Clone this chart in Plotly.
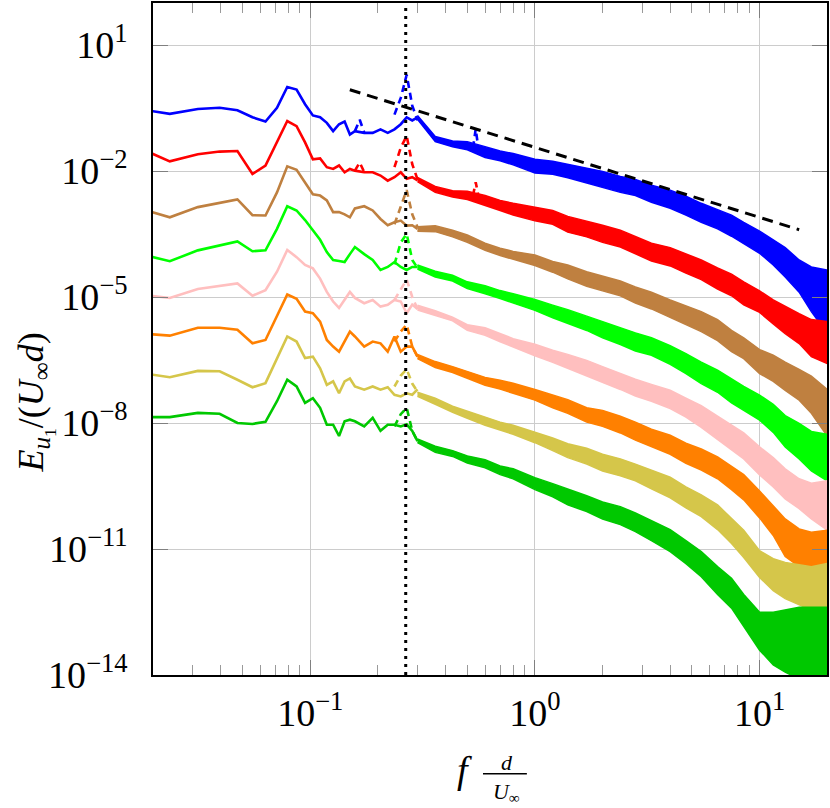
import plotly.graph_objects as go

# FFT bins of the low-frequency part (f d / U_inf)
F_LOW = [0.0158, 0.0237, 0.0316, 0.0395, 0.0474, 0.0553, 0.0632, 0.0711, 0.079, 0.0869,
         0.0948, 0.1027, 0.1106, 0.1185, 0.1264, 0.1343, 0.1422, 0.1501, 0.158, 0.1738,
         0.1896, 0.2054, 0.2212, 0.237, 0.2528, 0.2686, 0.2844, 0.3002]

# noisy high-frequency part, read as upper / lower envelope
F_BAND = [0.30, 0.36, 0.43, 0.5, 0.6, 0.7, 0.8, 1.0, 1.2, 1.4, 1.7, 2.0, 2.4, 2.8, 3.3,
          4.0, 4.7, 5.5, 6.5, 7.5, 8.5, 10, 11.5, 13, 15, 17, 20]

BLUE_LOW = [3.2e-1, 2.3e-1, 3.0e-1, 3.2e-1, 2.8e-1, 1.9e-1, 1.5e-1, 3.2e-1, 1.0, 8.7e-1,
            3.9e-1, 2.1e-1, 1.9e-1, 1.4e-1, 8.9e-2, 1.3e-1, 1.5e-1, 7.4e-2, 8.9e-2, 8.1e-2,
            8.1e-2, 9.8e-2, 8.1e-2, 9.8e-2, 1.3e-1, 1.9e-1, 1.6e-1, 1.9e-1]
BLUE_HI = [2.1e-1, 6.6e-2, 5.2e-2, 5.0e-2, 3.8e-2, 3.0e-2, 2.6e-2, 1.9e-2, 1.7e-2, 1.45e-2,
           1.15e-2, 9.8e-3, 7.4e-3, 6.3e-3, 4.6e-3, 3.5e-3, 2.5e-3, 1.7e-3, 1.2e-3, 8.9e-4,
           6.0e-4, 3.7e-4, 2.3e-4, 1.5e-4, 7.6e-5, 5.2e-5, 4.4e-5]
BLUE_LO = [1.7e-1, 5.0e-2, 3.8e-2, 3.2e-2, 2.1e-2, 1.75e-2, 1.4e-2, 9.0e-3, 8.4e-3, 6.9e-3,
           5.1e-3, 4.1e-3, 3.1e-3, 2.6e-3, 1.8e-3, 1.3e-3, 8.9e-4, 6.0e-4, 4.2e-4, 2.8e-4,
           1.9e-4, 1.1e-4, 5.8e-5, 3.0e-5, 1.3e-5, 4.5e-6, 1.35e-6]

RED_LOW = [4.4e-2, 1.7e-2, 2.5e-2, 2.9e-2, 3.0e-2, 8.5e-3, 1.35e-2, 4.8e-2, 1.55e-1, 1.17e-1,
           4.8e-2, 1.9e-2, 2.0e-2, 1.23e-2, 1.12e-2, 1.35e-2, 9.3e-3, 1.12e-2, 1.02e-2, 9.3e-3,
           9.3e-3, 7.8e-3, 5.9e-3, 7.1e-3, 9.3e-3, 6.5e-3, 7.1e-3, 6.0e-3]
RED_HI = [7.0e-3, 4.3e-3, 3.4e-3, 3.3e-3, 2.6e-3, 2.0e-3, 1.7e-3, 1.4e-3, 1.15e-3, 8.3e-4,
          6.5e-4, 5.1e-4, 3.9e-4, 2.7e-4, 1.9e-4, 1.5e-4, 1.05e-4, 7.6e-5, 4.9e-5, 3.5e-5,
          2.3e-5, 1.4e-5, 8.5e-6, 5.9e-6, 4.0e-6, 2.9e-6, 2.6e-6]
RED_LO = [5.6e-3, 3.1e-3, 2.4e-3, 2.1e-3, 1.5e-3, 1.15e-3, 9.0e-4, 6.5e-4, 5.4e-4, 3.5e-4,
          2.7e-4, 2.0e-4, 1.55e-4, 1.05e-4, 7.2e-5, 5.5e-5, 3.7e-5, 2.6e-5, 1.55e-5, 1.07e-5,
          6.5e-6, 4.3e-6, 2.3e-6, 1.35e-6, 7.8e-7, 3.8e-7, 2.6e-7]

BROWN_LOW = [1.48e-3, 7.9e-4, 1.38e-3, 1.74e-3, 2.1e-3, 8.9e-4, 8.7e-4, 3.1e-3, 1.29e-2, 1.07e-2,
             5.4e-3, 2.8e-3, 2.6e-3, 2.0e-3, 1.05e-3, 1.05e-3, 9.3e-4, 7.9e-4, 1.29e-3, 1.45e-3,
             1.15e-3, 7.2e-4, 5.1e-4, 6.0e-4, 6.6e-4, 5.0e-4, 5.1e-4, 4.2e-4]
BROWN_HI = [4.7e-4, 5.0e-4, 3.9e-4, 3.0e-4, 1.9e-4, 1.45e-4, 1.22e-4, 1.0e-4, 7.0e-5, 5.8e-5,
            4.0e-5, 3.2e-5, 2.4e-5, 1.74e-5, 1.3e-5, 8.5e-6, 6.2e-6, 4.5e-6, 2.9e-6, 1.6e-6,
            1.07e-6, 5.6e-7, 4.1e-7, 2.8e-7, 1.9e-7, 1.3e-7, 6.3e-8]
BROWN_LO = [3.7e-4, 3.6e-4, 2.7e-4, 2.0e-4, 1.3e-4, 9.7e-5, 7.8e-5, 5.6e-5, 3.9e-5, 2.7e-5,
            1.8e-5, 1.4e-5, 1.07e-5, 7.2e-6, 5.2e-6, 3.2e-6, 2.2e-6, 1.5e-6, 9.1e-7, 5.0e-7,
            3.4e-7, 1.5e-7, 9.8e-8, 6.0e-8, 3.5e-8, 1.7e-8, 4.9e-9]

LIME_LOW = [1.2e-4, 7.1e-5, 1.29e-4, 1.7e-4, 2.1e-4, 1.23e-4, 1.29e-4, 4.2e-4, 1.45e-3, 1.15e-3,
            6.8e-4, 3.9e-4, 2.3e-4, 1.17e-4, 7.6e-5, 7.2e-5, 6.8e-5, 1.05e-4, 1.55e-4, 1.05e-4,
            7.6e-5, 4.4e-5, 5.2e-5, 6.8e-5, 5.2e-5, 4.4e-5, 5.2e-5, 5.2e-5]
LIME_HI = [5.8e-5, 4.1e-5, 3.3e-5, 2.3e-5, 1.85e-5, 1.42e-5, 1.2e-5, 8.7e-6, 6.4e-6, 5.0e-6,
           3.5e-6, 2.6e-6, 1.8e-6, 1.4e-6, 1.07e-6, 6.9e-7, 4.5e-7, 2.8e-7, 1.8e-7, 1.1e-7,
           7.4e-8, 4.6e-8, 2.8e-8, 1.5e-8, 9.8e-9, 6.3e-9, 5.4e-9]
LIME_LO = [4.6e-5, 3.0e-5, 2.4e-5, 1.6e-5, 1.2e-5, 9.2e-6, 7.4e-6, 4.8e-6, 3.2e-6, 2.3e-6,
           1.6e-6, 1.07e-6, 7.4e-7, 5.2e-7, 4.1e-7, 2.5e-7, 1.5e-7, 8.7e-8, 5.4e-8, 3.0e-8,
           2.0e-8, 1.17e-8, 6.0e-9, 2.7e-9, 1.4e-9, 7.2e-10, 4.2e-10]

PINK_LOW = [1.23e-5, 9.5e-6, 1.55e-5, 1.86e-5, 2.1e-5, 1.07e-5, 1.45e-5, 4.0e-5, 1.32e-4, 8.9e-5,
            5.8e-5, 4.8e-5, 2.75e-5, 1.32e-5, 7.8e-6, 5.5e-6, 8.5e-6, 1.32e-5, 9.5e-6, 7.1e-6,
            8.5e-6, 5.9e-6, 6.5e-6, 8.5e-6, 7.8e-6, 4.1e-6, 6.6e-6, 5.2e-6]
PINK_HI = [6.4e-6, 4.7e-6, 3.3e-6, 2.2e-6, 1.85e-6, 1.33e-6, 1.02e-6, 7.5e-7, 5.4e-7, 4.3e-7,
           3.1e-7, 2.2e-7, 1.5e-7, 1.1e-7, 8.3e-8, 6.0e-8, 3.9e-8, 2.6e-8, 1.45e-8, 8.9e-9,
           5.8e-9, 2.7e-9, 1.5e-9, 8.1e-10, 4.7e-10, 3.7e-10, 4.2e-10]
PINK_LO = [4.9e-6, 3.6e-6, 2.7e-6, 1.6e-6, 1.22e-6, 8.6e-7, 6.3e-7, 4.0e-7, 2.8e-7, 2.0e-7,
           1.35e-7, 9.3e-8, 6.3e-8, 4.4e-8, 3.3e-8, 2.2e-8, 1.38e-8, 7.9e-9, 4.2e-9, 2.3e-9,
           1.4e-9, 5.8e-10, 3.0e-10, 1.55e-10, 9.1e-11, 5.2e-11, 2.8e-11]

ORANGE_LOW = [1.41e-6, 1.2e-6, 1.86e-6, 1.86e-6, 1.66e-6, 7.9e-7, 9.5e-7, 3.7e-6, 1.15e-5, 9.1e-6,
              4.5e-6, 4.1e-6, 2.6e-6, 9.5e-7, 6.6e-7, 5.0e-7, 8.7e-7, 1.5e-6, 1.15e-6, 6.6e-7,
              8.7e-7, 7.9e-7, 5.0e-7, 1.15e-6, 5.0e-7, 6.6e-7, 6.6e-7, 3.8e-7]
ORANGE_HI = [4.3e-7, 2.9e-7, 2.2e-7, 1.7e-7, 1.22e-7, 1.04e-7, 8.8e-8, 6.3e-8, 4.6e-8, 3.6e-8,
             2.3e-8, 2.0e-8, 1.45e-8, 1.05e-8, 7.1e-9, 5.1e-9, 3.3e-9, 2.4e-9, 1.55e-9, 9.5e-10,
             5.9e-10, 2.4e-10, 1.07e-10, 5.2e-11, 3.0e-11, 2.5e-11, 2.8e-11]
ORANGE_LO = [3.4e-7, 2.1e-7, 1.6e-7, 1.17e-7, 7.9e-8, 6.4e-8, 5.1e-8, 3.5e-8, 2.3e-8, 1.7e-8,
             1.05e-8, 8.3e-9, 5.8e-9, 3.9e-9, 2.7e-9, 1.8e-9, 1.1e-9, 7.6e-10, 4.7e-10, 2.6e-10,
             1.48e-10, 5.5e-11, 2.1e-11, 6.6e-12, 3.8e-12, 3.1e-12, 2.5e-12]

OLIVE_LOW = [1.7e-7, 1.23e-7, 1.74e-7, 1.7e-7, 1.07e-7, 7.1e-8, 8.9e-8, 3.5e-7, 1.15e-6, 8.7e-7,
             3.5e-7, 3.8e-7, 2.0e-7, 8.1e-8, 9.8e-8, 5.1e-8, 9.8e-8, 1.15e-7, 7.4e-8, 6.2e-8,
             7.4e-8, 6.2e-8, 7.1e-8, 4.7e-8, 4.3e-8, 5.1e-8, 4.7e-8, 6.3e-8]
OLIVE_HI = [5.4e-8, 3.9e-8, 2.5e-8, 1.9e-8, 1.38e-8, 1.05e-8, 8.8e-9, 6.0e-9, 4.4e-9, 3.2e-9,
            2.5e-9, 1.8e-9, 1.4e-9, 1.05e-9, 7.6e-10, 5.1e-10, 3.0e-10, 1.95e-10, 1.12e-10, 5.5e-11,
            2.8e-11, 9.1e-12, 5.9e-12, 4.8e-12, 4.3e-12, 3.8e-12, 4.5e-12]
OLIVE_LO = [4.3e-8, 2.8e-8, 1.8e-8, 1.3e-8, 8.8e-9, 6.7e-9, 5.4e-9, 3.4e-9, 2.2e-9, 1.5e-9,
            1.05e-9, 7.2e-10, 5.5e-10, 4.2e-10, 2.7e-10, 1.66e-10, 9.5e-11, 5.9e-11, 2.9e-11, 1.35e-11,
            6.3e-12, 2.1e-12, 1.02e-12, 6.6e-13, 4.8e-13, 3.5e-13, 2.3e-13]

GREEN_LOW = [1.38e-8, 1.38e-8, 1.74e-8, 1.66e-8, 1.0e-8, 9.5e-9, 1.07e-8, 3.3e-8, 1.07e-7, 7.4e-8,
             3.0e-8, 3.9e-8, 2.3e-8, 9.1e-9, 9.1e-9, 4.9e-9, 1.1e-8, 1.2e-8, 1.1e-8, 8.3e-9,
             1.32e-8, 6.5e-9, 9.1e-9, 9.1e-9, 8.3e-9, 9.3e-9, 6.5e-9, 3.7e-9]
GREEN_HI = [4.2e-9, 2.8e-9, 2.2e-9, 1.65e-9, 1.33e-9, 9.5e-10, 8.1e-10, 5.0e-10, 3.6e-10, 2.7e-10,
            1.86e-10, 1.32e-10, 1.02e-10, 7.2e-11, 4.7e-11, 2.9e-11, 1.58e-11, 8.7e-12, 3.8e-12, 2.0e-12,
            8.3e-13, 3.1e-13, 3.1e-13, 3.5e-13, 4.1e-13, 4.1e-13, 4.1e-13]
GREEN_LO = [3.4e-9, 2.0e-9, 1.6e-9, 1.12e-9, 8.6e-10, 5.9e-10, 4.7e-10, 2.6e-10, 1.75e-10, 1.12e-10,
            7.8e-11, 5.2e-11, 3.8e-11, 2.6e-11, 1.58e-11, 8.7e-12, 4.5e-12, 2.2e-12, 8.3e-13, 3.9e-13,
            1.45e-13, 3.9e-14, 1.74e-14, 1.17e-14, 8e-15, 8e-15, 8e-15]

# dashed (second) spectra, only visible where they leave the solid ones
DASH_F = [0.158, 0.166, 0.174, None, 0.237, 0.2528, 0.2686, 0.2844, 0.3002, None, 0.53, 0.545, 0.56]
BLUE_DASH = [8.9e-2, 1.66e-1, 8.1e-2, None, 2.2e-1, 5.5e-1, 1.95, 3.6e-1, 1.6e-1, None, 3.5e-2, 1.0e-1, 3.5e-2]
RED_DASH = [1.02e-2, 1.6e-2, 9.3e-3, None, 1.23e-2, 3.6e-2, 6.9e-2, 1.45e-2, 6.3e-3, None, 2.6e-3, 5.4e-3, 2.6e-3]
BROWN_DASH = [None, None, None, None, 5.4e-4, 1.38e-3, 3.5e-3, 9.3e-4, 4.6e-4, None, None, None, None]
LIME_DASH = [None, None, None, None, 6.0e-5, 2.0e-4, 3.2e-4, 7.6e-5, 4.9e-5, None, None, None, None]
PINK_DASH = [None, None, None, None, 8.5e-6, 1.5e-5, 2.6e-5, 1.0e-5, 5.2e-6, None, None, None, None]
ORANGE_DASH = [None, None, None, None, 8.7e-7, 1.5e-6, 2.2e-6, 6.6e-7, 3.8e-7, None, None, None, None]
OLIVE_DASH = [None, None, None, None, 7.4e-8, 1.35e-7, 1.9e-7, 8.7e-8, 5.6e-8, None, None, None, None]
GREEN_DASH = [None, None, None, None, 8.3e-9, 1.62e-8, 2.3e-8, 6.5e-9, 3.7e-9, None, None, None, None]

# -5/3 reference slope and shedding frequency
SLOPE_F = [0.15, 15]
SLOPE_E = [0.86, 4.0e-4]
F_SHED = 0.266

SERIES = [
    ('#0000ff', BLUE_LOW, BLUE_HI, BLUE_LO, BLUE_DASH),
    ('#ff0000', RED_LOW, RED_HI, RED_LO, RED_DASH),
    ('#bf8040', BROWN_LOW, BROWN_HI, BROWN_LO, BROWN_DASH),
    ('#00ff00', LIME_LOW, LIME_HI, LIME_LO, LIME_DASH),
    ('#ffbfbf', PINK_LOW, PINK_HI, PINK_LO, PINK_DASH),
    ('#ff8000', ORANGE_LOW, ORANGE_HI, ORANGE_LO, ORANGE_DASH),
    ('#d5c64a', OLIVE_LOW, OLIVE_HI, OLIVE_LO, OLIVE_DASH),
    ('#00c800', GREEN_LOW, GREEN_HI, GREEN_LO, GREEN_DASH),
]

FONT = 'Liberation Serif'

fig = go.Figure()

for color, low, hi, lo, dash in SERIES:
    fig.add_trace(go.Scatter(
        x=F_LOW, y=low, mode='lines',
        line=dict(color=color, width=2.6), hoverinfo='skip'
    ))
    fig.add_trace(go.Scatter(
        x=F_BAND + F_BAND[::-1], y=hi + lo[::-1], mode='lines',
        fill='toself', fillcolor=color,
        line=dict(color=color, width=1.5), hoverinfo='skip'
    ))
    fig.add_trace(go.Scatter(
        x=DASH_F, y=dash, mode='lines', connectgaps=False,
        line=dict(color=color, width=2.6, dash='7px,5px'), hoverinfo='skip'
    ))

fig.add_trace(go.Scatter(
    x=SLOPE_F, y=SLOPE_E, mode='lines',
    line=dict(color='black', width=3, dash='11px,7px'), hoverinfo='skip'
))

fig.add_shape(type='line', xref='x', yref='paper', x0=F_SHED, x1=F_SHED, y0=0, y1=1,
              line=dict(color='black', width=3, dash='3px,5px'))

minor_x = [0.02, 0.03, 0.04, 0.05, 0.06, 0.07, 0.08, 0.09,
           0.2, 0.3, 0.4, 0.5, 0.6, 0.7, 0.8, 0.9,
           2, 3, 4, 5, 6, 7, 8, 9]

fig.update_xaxes(
    type='log', range=[-1.70, 1.30],
    tickvals=[0.1, 1, 10],
    ticktext=['10<sup>−1</sup>', '10<sup>0</sup>', '10<sup>1</sup>'],
    ticks='inside', ticklen=15, tickcolor='#808080', tickwidth=1,
    minor=dict(tickvals=minor_x, ticks='inside', ticklen=10, tickcolor='#9a9a9a', showgrid=False),
    showgrid=True, gridcolor='#cccccc', gridwidth=1,
    showline=True, linecolor='black', linewidth=1.5, mirror='ticks',
    zeroline=False, ticklabelstandoff=4,
    tickfont=dict(family=FONT, size=38, color='black'),
)
fig.update_yaxes(
    type='log', range=[-14, 2],
    tickvals=[1e1, 1e-2, 1e-5, 1e-8, 1e-11, 1e-14],
    ticktext=['10<sup>1</sup>', '10<sup>−2</sup>', '10<sup>−5</sup>',
              '10<sup>−8</sup>', '10<sup>−11</sup>', '10<sup>−14</sup>'],
    ticks='inside', ticklen=15, tickcolor='#808080', tickwidth=1,
    showgrid=True, gridcolor='#cccccc', gridwidth=1,
    showline=True, linecolor='black', linewidth=1.5, mirror='ticks',
    zeroline=False, ticklabelstandoff=16,
    tickfont=dict(family=FONT, size=38, color='black'),
)

# axis titles
fig.add_annotation(
    text='<i>E</i><sub><i>u</i><sub>1</sub></sub>/(<i>U</i><sub>∞</sub><i>d</i>)',
    xref='paper', yref='paper', x=-0.174, y=0.405, textangle=-90,
    showarrow=False, font=dict(family=FONT, size=36, color='black'),
    xanchor='center', yanchor='middle'
)
fig.add_annotation(text='<i>f</i>', xref='paper', yref='paper', x=0.462, y=-0.175,
                   showarrow=False, font=dict(family=FONT, size=38, color='black'))
# d / U_inf written as a two-line fraction with a bar between the lines
fig.add_annotation(text='<i>d</i><br><i>U</i><sub>∞</sub>', xref='paper', yref='paper',
                   x=0.5245, y=-0.1979, align='center',
                   showarrow=False, font=dict(family=FONT, size=22, color='black'))
fig.add_shape(type='line', xref='paper', yref='paper', x0=0.4896, x1=0.5547, y0=-0.1469, y1=-0.1469,
              line=dict(color='black', width=1.5))

fig.update_layout(
    width=830, height=808,
    margin=dict(l=153, r=1, t=1, b=133),
    plot_bgcolor='white', paper_bgcolor='white',
    showlegend=False,
    font=dict(family=FONT, size=30, color='black'),
)

fig.write_html("out.html", config={'displayModeBar': False},
               post_script="document.body.style.margin='0px';")
